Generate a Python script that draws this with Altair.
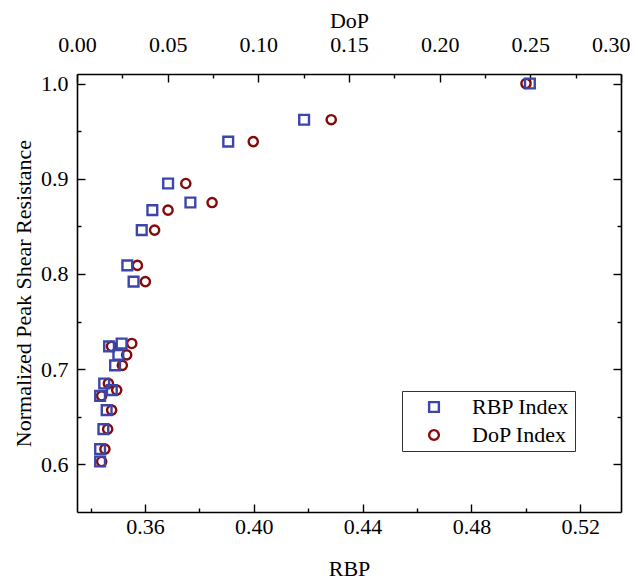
import altair as alt
import pandas as pd

# Normalized peak shear resistance (shared y values)
shear = [0.603, 0.616, 0.637, 0.657, 0.672, 0.678, 0.685, 0.704, 0.715, 0.724,
         0.727, 0.792, 0.809, 0.846, 0.867, 0.875, 0.895, 0.939, 0.962, 1.000]
# RBP index values (bottom axis)
rbp = [0.3435, 0.3435, 0.3447, 0.3459, 0.3435, 0.3478, 0.3450, 0.3490, 0.3502, 0.3468,
       0.3514, 0.3558, 0.3535, 0.3588, 0.3627, 0.3767, 0.3685, 0.3906, 0.4185, 0.5015]
# DoP index values (top axis)
dop = [0.0136, 0.0154, 0.0169, 0.0191, 0.0136, 0.0219, 0.0173, 0.0250, 0.0274, 0.0190,
       0.0302, 0.0377, 0.0333, 0.0428, 0.0502, 0.0745, 0.0600, 0.0972, 0.1402, 0.2476]

series_names = ["RBP Index", "DoP Index"]
series_colors = ["#3C46A8", "#850A0A"]
series_shapes = ["square", "circle"]

y_ticks = [0.60, 0.65, 0.70, 0.75, 0.80, 0.85, 0.90, 0.95, 1.00]
rbp_ticks = [0.34, 0.36, 0.38, 0.40, 0.42, 0.44, 0.46, 0.48, 0.50, 0.52]
dop_ticks = [0.0, 0.025, 0.05, 0.075, 0.10, 0.125, 0.15, 0.175, 0.20, 0.225, 0.25, 0.275, 0.30]

FONT = "Liberation Serif"
FS = 22

df_rbp = pd.DataFrame({"RBP": rbp, "NPSR": shear, "series": series_names[0]})
df_dop = pd.DataFrame({"DoP": dop, "NPSR": shear, "series": series_names[1]})

legend = alt.Legend(orient="none", legendX=325, legendY=317, title=None,
                    padding=5, symbolOffset=16, labelOffset=27, rowPadding=6,
                    strokeColor="#333333", labelFont=FONT, labelFontSize=FS,
                    labelColor="black", symbolSize=95, symbolStrokeWidth=2.4)

color = alt.Color("series:N", scale=alt.Scale(domain=series_names, range=series_colors), legend=legend)
shape = alt.Shape("series:N", scale=alt.Scale(domain=series_names, range=series_shapes), legend=legend)

y_major = "round(datum.value*100) % 10 == 0"
rbp_major = "round(datum.value*100) % 4 == 0"
dop_major = "round(datum.value*1000) % 50 == 0"
dop_last = "round(datum.value*1000) == 300"

def tick_size(test):
    return {"condition": {"test": test, "expr": "-8"}, "expr": "-4"}

common_axis = dict(domainColor="black", domainWidth=1.6, tickColor="black", tickWidth=1.4,
                   labelFont=FONT, labelFontSize=FS, labelColor="black",
                   titleFont=FONT, titleFontSize=FS, titleFontWeight="normal", titleColor="black",
                   grid=False)

y_scale = alt.Scale(domain=[0.55, 1.01], nice=False, zero=False)

circles = alt.Chart(df_dop).mark_point(filled=False, size=85, strokeWidth=2.4, opacity=1).encode(
    x=alt.X("DoP:Q", scale=alt.Scale(domain=[0.0, 0.30], nice=False, zero=False),
            axis=alt.Axis(orient="top", title="DoP", values=dop_ticks,
                          labelExpr=f"{dop_major} ? format(datum.value, '.2f') : ''",
                          labelAlign={"condition": {"test": dop_last, "value": "right"}, "value": "center"},
                          labelOffset={"condition": {"test": dop_last, "value": 9}, "value": 0},
                          tickSize=tick_size(dop_major), labelPadding=26, titlePadding=-3,
                          labelFlush=False, labelOverlap=False, **common_axis)),
    y=alt.Y("NPSR:Q", scale=y_scale,
            axis=alt.Axis(orient="right", title=None, values=y_ticks, labels=False,
                          tickSize=tick_size(y_major), **common_axis)),
    color=color, shape=shape,
)

squares = alt.Chart(df_rbp).mark_point(filled=False, size=95, strokeWidth=2.4, opacity=1).encode(
    x=alt.X("RBP:Q", scale=alt.Scale(domain=[0.335, 0.535], nice=False, zero=False),
            axis=alt.Axis(orient="bottom", title="RBP", values=rbp_ticks,
                          labelExpr=f"{rbp_major} ? format(datum.value, '.2f') : ''",
                          tickSize=tick_size(rbp_major), labelPadding=12, titlePadding=17,
                          labelFlush=False, labelOverlap=False, **common_axis)),
    y=alt.Y("NPSR:Q", scale=y_scale,
            axis=alt.Axis(orient="left", title="Normalized Peak Shear Resistance", values=y_ticks,
                          labelExpr=f"{y_major} ? format(datum.value, '.1f') : ''",
                          tickSize=tick_size(y_major), labelPadding=17, titlePadding=5,
                          labelOverlap=False, **common_axis)),
    color=color, shape=shape,
)

chart = alt.layer(circles, squares).resolve_scale(x="independent").resolve_axis(
    x="independent", y="independent"
).properties(
    width=544, height=438,
    autosize=alt.AutoSizeParams(type="none"),
    padding={"left": 69, "top": 66, "right": 9, "bottom": 68},
    background="white",
).configure_view(stroke=None)

chart.save("out.html", embed_options={"renderer": "svg", "actions": False})
